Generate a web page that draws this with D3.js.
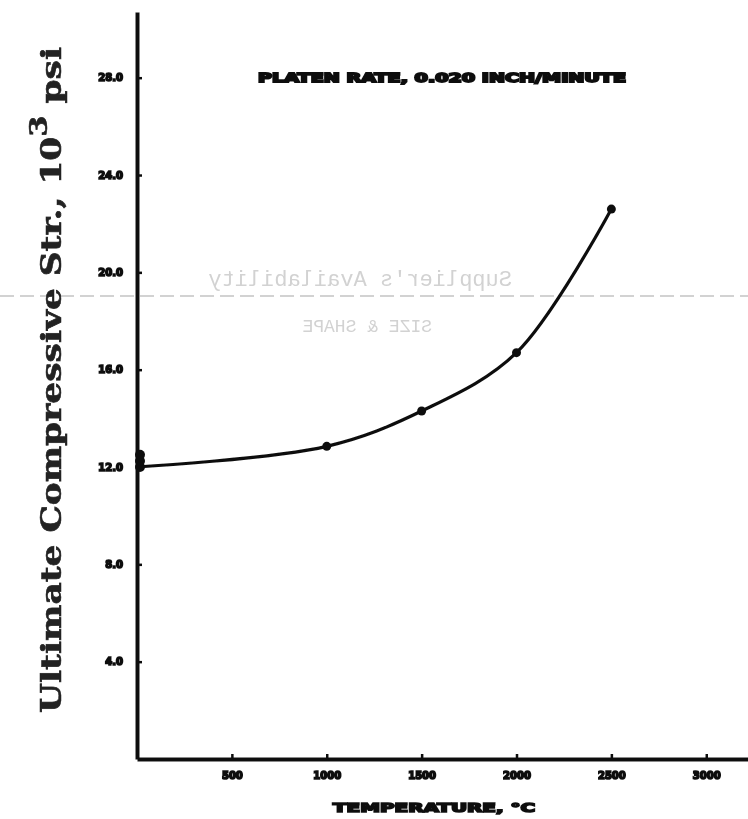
<!DOCTYPE html>
<html>
<head>
<meta charset="utf-8">
<script src="https://cdn.jsdelivr.net/npm/d3@7"></script>
<style>
  body { margin: 0; background: #fff; }
  svg { display: block; }
</style>
</head>
<body>
<svg id="chart" width="748" height="819"></svg>
<script>
// values
var temps     = [0, 1000, 1500, 2000, 2500];           // deg C
var strengths = [12.0, 12.85, 14.3, 16.7, 22.6];       // 10^3 psi
// extra scatter at room temperature
var startTemps     = [0, 0, 0];
var startStrengths = [12.0, 12.25, 12.5];
var xTicks = [500, 1000, 1500, 2000, 2500, 3000];
var yTicks = [4, 8, 12, 16, 20, 24, 28];

var svg = d3.select("#chart");

var defs = svg.append("defs");
defs.append("filter").attr("id", "scan")
    .append("feGaussianBlur").attr("stdDeviation", 0.7);

var x = d3.scaleLinear().domain([0, 3220]).range([137, 748]);
var y = d3.scaleLinear().domain([0, 30.7]).range([759, 12]);

// faint bleed-through from the back of the page
var ghost = svg.append("g").attr("fill", "#d2d2d2").attr("font-family", "Liberation Mono")
    .attr("font-size", 22).attr("filter", "url(#scan)");
ghost.append("text")
    .attr("transform", "translate(512,286) scale(-1,1)")
    .text("Supplier's Availability");
ghost.append("text")
    .attr("transform", "translate(432,332) scale(-1,1)")
    .attr("font-size", 18)
    .text("SIZE & SHAPE");
ghost.append("line")
    .attr("x1", 0).attr("x2", 748).attr("y1", 296).attr("y2", 296)
    .attr("stroke", "#c4c4c4").attr("stroke-width", 1.5)
    .attr("stroke-dasharray", "14 6");

var g = svg.append("g").attr("filter", "url(#scan)");

// axes
var yAxis = d3.axisLeft(y)
    .tickValues(yTicks)
    .tickFormat(d3.format(".1f"))
    .tickSizeInner(-5)
    .tickSizeOuter(0)
    .tickPadding(14);

var xAxis = d3.axisBottom(x)
    .tickValues(xTicks)
    .tickFormat(d3.format("d"))
    .tickSizeInner(-5)
    .tickSizeOuter(0)
    .tickPadding(13);

var ya = g.append("g").attr("transform", "translate(137,0)").call(yAxis);
var xa = g.append("g").attr("transform", "translate(0,759)").call(xAxis);

[ya, xa].forEach(function(a){
    a.select(".domain").attr("stroke", "#111").attr("stroke-width", 4);
    a.selectAll(".tick line").attr("stroke", "#111").attr("stroke-width", 2.5);
    a.selectAll(".tick text")
	.attr("fill", "#111")
	.attr("stroke", "#111")
	.attr("stroke-width", 1.6)
	.attr("font-family", "DejaVu Sans")
	.attr("font-weight", "bold")
	.attr("font-size", 10);
});

// curve through the measured points
var line = d3.line()
    .x(function(d, i){ return x(temps[i]); })
    .y(function(d){ return y(d); })
    .curve(d3.curveCatmullRom.alpha(0.5));

g.append("path")
    .datum(strengths)
    .attr("d", line)
    .attr("fill", "none")
    .attr("stroke", "#111")
    .attr("stroke-width", 3.2);

g.selectAll(".pt")
    .data(strengths.slice(1))
    .enter().append("circle")
    .attr("class", "pt")
    .attr("cx", function(d, i){ return x(temps[i + 1]); })
    .attr("cy", function(d){ return y(d); })
    .attr("r", 4.5)
    .attr("fill", "#111");

g.selectAll(".pt0")
    .data(startStrengths)
    .enter().append("circle")
    .attr("class", "pt0")
    .attr("cx", function(d, i){ return x(startTemps[i]) + 3; })
    .attr("cy", function(d){ return y(d); })
    .attr("r", 5)
    .attr("fill", "#111");

// heading inside the plot
g.append("text")
    .attr("x", 258).attr("y", 82)
    .attr("textLength", 368)
    .attr("lengthAdjust", "spacingAndGlyphs")
    .attr("font-family", "DejaVu Sans")
    .attr("font-weight", "bold")
    .attr("font-size", 12)
    .attr("fill", "#111")
    .attr("stroke", "#111")
    .attr("stroke-width", 1.8)
    .text("PLATEN RATE, 0.020 INCH/MINUTE");

// x title
g.append("text")
    .attr("x", 333).attr("y", 812)
    .attr("textLength", 202)
    .attr("lengthAdjust", "spacingAndGlyphs")
    .attr("font-family", "DejaVu Sans")
    .attr("font-weight", "bold")
    .attr("font-size", 12)
    .attr("fill", "#111")
    .attr("stroke", "#111")
    .attr("stroke-width", 1.6)
    .text("TEMPERATURE, \u00b0C");

// y title, rotated
var yt = g.append("text")
    .attr("transform", "translate(61,713) rotate(-90)")
    .attr("font-family", "DejaVu Serif")
    .attr("font-weight", "bold")
    .attr("font-size", 27)
    .attr("fill", "#222")
    .attr("stroke", "#222")
    .attr("stroke-width", 0.6)
    .attr("textLength", 666)
    .attr("lengthAdjust", "spacingAndGlyphs");
yt.append("tspan").text("Ultimate Compressive Str.,  10");
yt.append("tspan").attr("dy", -14).attr("font-size", 24).text("3");
yt.append("tspan").attr("dy", 14).text(" psi");
</script>
</body>
</html>
